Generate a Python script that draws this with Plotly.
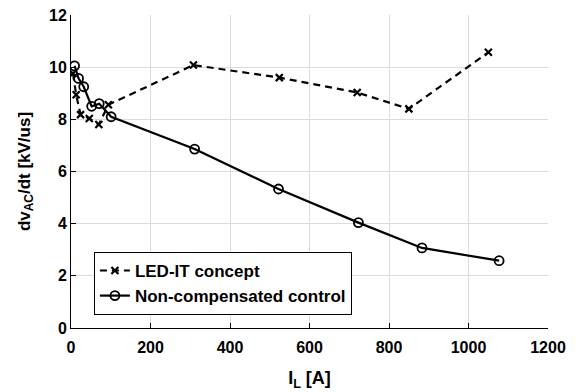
import plotly.graph_objects as go

led_x = [5, 13, 24, 46, 70, 94, 308, 524, 720, 850, 1050]
led_y = [9.76, 8.94, 8.18, 8.03, 7.8, 8.56, 10.08, 9.6, 9.03, 8.4, 10.57]

nc_x = [9, 19, 32, 52, 71, 101, 311, 522, 723, 883, 1077]
nc_y = [10.05, 9.57, 9.25, 8.5, 8.6, 8.1, 6.86, 5.33, 4.04, 3.07, 2.58]

x_ticks = [0, 200, 400, 600, 800, 1000, 1200]
y_ticks = [0, 2, 4, 6, 8, 10, 12]

font_family = "Liberation Sans, Arial, sans-serif"

fig = go.Figure()
fig.add_trace(go.Scatter(
    x=led_x, y=led_y, mode="lines+markers", name="<b>LED-IT concept</b>",
    line=dict(color="black", width=2.2, dash="7px,5px"),
    marker=dict(symbol="x-thin", size=7, line=dict(color="black", width=2.2)),
))
fig.add_trace(go.Scatter(
    x=nc_x, y=nc_y, mode="lines+markers", name="<b>Non-compensated control</b>",
    line=dict(color="black", width=2.2),
    marker=dict(symbol="circle-open", size=9, color="black", line=dict(color="black", width=1.8)),
))

fig.update_layout(
    width=576, height=392,
    margin=dict(l=71, r=28, t=15, b=64),
    paper_bgcolor="white", plot_bgcolor="white",
    font=dict(family=font_family, size=16, color="black"),
    legend=dict(
        x=0.048, y=0.243, xanchor="left", yanchor="top",
        bordercolor="black", borderwidth=1, bgcolor="white",
        font=dict(size=17, family=font_family),
        tracegroupgap=0, itemwidth=30,
    ),
    showlegend=True,
)
fig.update_xaxes(
    range=[0, 1200], tickvals=x_ticks, ticktext=[f"<b>{v}</b>" for v in x_ticks],
    showgrid=True, gridcolor="#dcdcdc", gridwidth=1,
    showline=True, linecolor="black", linewidth=1,
    ticks="inside", ticklen=5, tickcolor="black",
    zeroline=False, ticklabelstandoff=5, automargin=False,
    title=dict(text="<b>I<sub>L</sub> [A]</b>", font=dict(size=18), standoff=16),
    tickfont=dict(size=16),
)
fig.update_yaxes(
    range=[0, 12], tickvals=y_ticks, ticktext=[f"<b>{v}</b>" for v in y_ticks],
    showgrid=True, gridcolor="#dcdcdc", gridwidth=1,
    showline=True, linecolor="black", linewidth=1,
    ticks="inside", ticklen=5, tickcolor="black",
    zeroline=False, automargin=False,
    title=dict(text="<b>dv<sub>AC</sub>/dt [kV/us]</b>", font=dict(size=17), standoff=14),
    tickfont=dict(size=16),
)

fig.write_html("out.html")
